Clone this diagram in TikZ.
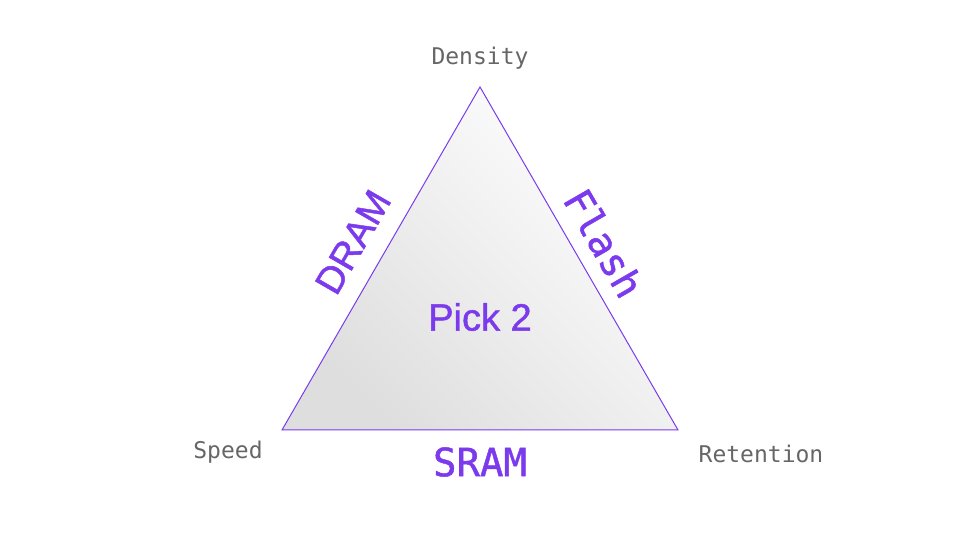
\documentclass[tikz,border=0pt]{standalone}
\usepackage{fontspec}
\setmainfont{Liberation Sans}
\newfontfamily\monofont{DejaVu Sans Mono}
\newfontfamily\monobold[FakeBold=1.2]{DejaVu Sans Mono}
\newfontfamily\sansbold[FakeBold=1.2]{Liberation Sans}
\usetikzlibrary{shadings}
\definecolor{vio}{HTML}{7C3AED}
\definecolor{lbl}{HTML}{666666}
\tikzset{
  corner/.style={font=\monofont\fontsize{23}{27}\selectfont, text=lbl, inner sep=0pt},
  edgemono/.style={font=\monobold\fontsize{39}{45}\selectfont, text=vio, inner sep=0pt},
  edgesans/.style={font=\sansbold\fontsize{38}{44}\selectfont, text=vio, inner sep=0pt},
}
\begin{document}
\begin{tikzpicture}[x=1pt,y=1pt]
\useasboundingbox (0,0) rectangle (962,540);
\coordinate (T) at (480,453);
\coordinate (L) at (282,110);
\coordinate (R) at (678,110);
\shade[shading=axis, top color=white, bottom color=black!13, shading angle=-45] (T) -- (L) -- (R) -- cycle;
\draw[vio, line width=1pt, line join=miter] (T) -- (L) -- (R) -- cycle;
\node[corner] (den) at (480,482) {Density};
\node[corner] (spd) at (228,88) {Speed};
\node[corner] (ret) at (761,86) {Retention};
\node[edgemono] (sram) at (480,78) {SRAM};
\node[edgesans] (dram) at (353,298) [rotate=60] {DRAM};
\node[edgemono] (flash) at (604,297) [rotate=-60] {Flash};
\node[edgesans] (pick) at (480,223) {Pick 2};
\end{tikzpicture}
\end{document}
